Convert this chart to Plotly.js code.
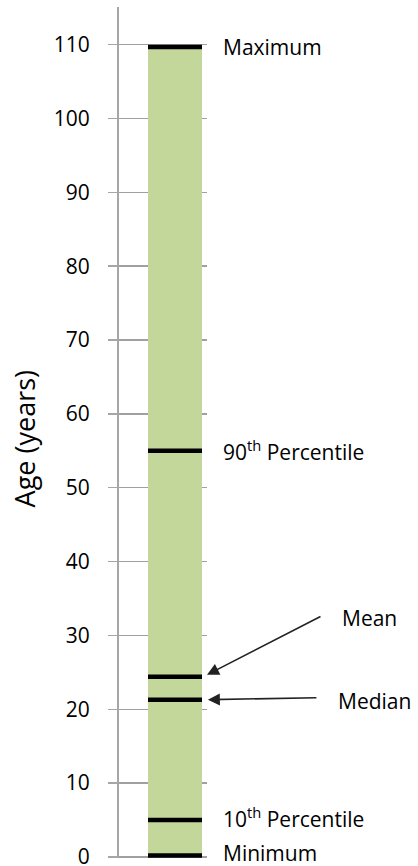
<!DOCTYPE html>
<html>
<head>
<meta charset="utf-8">
<script src="https://cdn.plot.ly/plotly-3.0.1.min.js"></script>
<style>html,body{margin:0;padding:0;background:#fff;}#chart{width:418px;height:866px;}</style>
</head>
<body>
<div id="chart"></div>
<script>
// Data
var statNames = ["Maximum", "90<sup>th</sup> Percentile", "Mean", "Median", "10<sup>th</sup> Percentile", "Minimum"];
var statValues = [109.7, 55, 24.4, 21.3, 5, 0.2];
var barTop = [109.7];
var yTickVals = [0, 10, 20, 30, 40, 50, 60, 70, 80, 90, 100, 110];
var yTitle = "Age (years)";

var FONT = "Open Sans, sans-serif";
var barX = 0.6364, barW = 0.6136;

var traces = [
  {
    type: "bar",
    x: [barX],
    y: barTop,
    width: [barW],
    marker: {color: "#C4D79B"},
    hoverinfo: "skip"
  },
  {
    type: "scatter",
    mode: "markers",
    x: statValues.map(function(){ return barX; }),
    y: statValues,
    marker: {symbol: "line-ew", size: 54 / 1.4, color: "#000", line: {color: "#000", width: 4.5}},
    cliponaxis: false,
    hoverinfo: "skip"
  }
];

var annotations = [];
// Labels to the right of the bar (Maximum, 90th, 10th, Minimum)
var sideIdx = [0, 1, 4, 5];
var sideShift = [0, 0, 3, 2];
sideIdx.forEach(function(i, k) {
  annotations.push({
    xref: "paper", yref: "y", x: 1.16, y: statValues[i], yshift: sideShift[k],
    text: statNames[i], showarrow: false, xanchor: "left", yanchor: "middle",
    font: {family: FONT, size: 21, color: "#000"}
  });
});
// Mean label + arrow
annotations.push({
  xref: "paper", yref: "y", x: 2.51, y: statValues[2], yshift: 59,
  text: statNames[2], showarrow: false, xanchor: "left", yanchor: "middle",
  font: {family: FONT, size: 21, color: "#000"}
});
annotations.push({
  xref: "paper", yref: "y", x: 1.0, y: statValues[2], yshift: 2,
  text: "", showarrow: true, ax: 115, ay: -59,
  arrowhead: 2, arrowsize: 1.5, arrowwidth: 1.6, arrowcolor: "#222"
});
// Median label + arrow
annotations.push({
  xref: "paper", yref: "y", x: 2.47, y: statValues[3], yshift: -1,
  text: statNames[3], showarrow: false, xanchor: "left", yanchor: "middle",
  font: {family: FONT, size: 21, color: "#000"}
});
annotations.push({
  xref: "paper", yref: "y", x: 1.01, y: statValues[3],
  text: "", showarrow: true, ax: 110, ay: -2,
  arrowhead: 2, arrowsize: 1.5, arrowwidth: 1.6, arrowcolor: "#222"
});
// Y axis title
annotations.push({
  xref: "paper", yref: "paper", x: -1.08, y: 0.493,
  text: yTitle, showarrow: false, textangle: -90, xanchor: "center", yanchor: "middle",
  font: {family: FONT, size: 27, color: "#000"}
});

var layout = {
  width: 418, height: 866,
  margin: {l: 119, r: 211, t: 7, b: 8, pad: 0},
  paper_bgcolor: "#fff", plot_bgcolor: "#fff",
  showlegend: false,
  xaxis: {range: [0, 1], visible: false, fixedrange: true},
  yaxis: {
    range: [-0.14, 115.1],
    tickvals: yTickVals,
    ticktext: yTickVals.map(String),
    showline: true, linecolor: "#a6a6a6", linewidth: 2,
    ticks: "outside", ticklen: 9, tickcolor: "#a6a6a6", tickwidth: 1.5,
    showgrid: true, gridcolor: "#a0a0a0", gridwidth: 1.5,
    zeroline: false,
    ticklabelstandoff: 14,
    ticklabeloverflow: "allow",
    tickfont: {family: FONT, size: 21, color: "#000"},
    fixedrange: true
  },
  annotations: annotations
};

Plotly.newPlot("chart", traces, layout, {displayModeBar: false, staticPlot: true});
</script>
</body>
</html>
